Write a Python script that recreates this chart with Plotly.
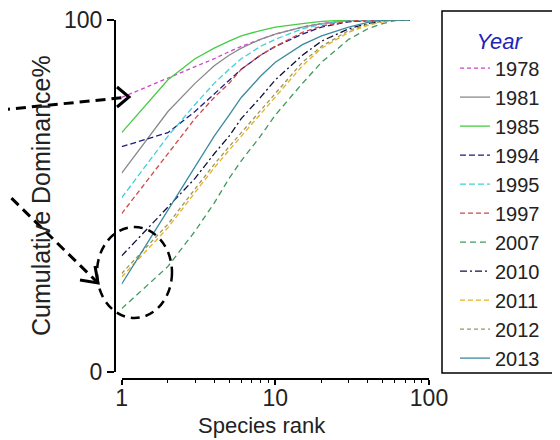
import plotly.graph_objects as go

# page has an 8px body margin: figure occupies x 8..560, y 8..440 of the window
OFF = 8
W, H = 560 - OFF, 440 - OFF

ranks = [1, 2, 3, 4, 5, 6, 8, 10, 15, 20, 30, 40, 50, 60, 75]

years = ["1978", "1981", "1985", "1994", "1995", "1997", "2007", "2010", "2011", "2012", "2013"]

y1978 = [78, 83.5, 86.5, 89, 91, 92.5, 94.5, 96, 98, 99, 99.7, 99.9, 100, 100, 100]
y1981 = [56.5, 74, 82, 87, 90, 92, 94.5, 96, 98, 99, 99.8, 100, 100, 100, 100]
y1985 = [68, 83, 89, 92, 94, 95.5, 97, 98, 99, 99.6, 100, 100, 100, 100, 100]
y1994 = [64, 68, 74, 79, 83, 86, 90, 92.5, 96, 98, 99.5, 99.9, 100, 100, 100]
y1995 = [49.5, 67, 76, 82, 86, 89, 92.5, 94.5, 97.5, 98.8, 99.8, 100, 100, 100, 100]
y1997 = [45, 62, 72, 78, 82, 86, 90, 92.5, 96.5, 98.3, 99.7, 100, 100, 100, 100]
y2007 = [18, 30, 40, 48, 55, 60, 67, 73, 82, 88, 94.5, 97.5, 99, 99.8, 100]
y2010 = [33, 47, 55, 62, 67, 72, 78, 83, 90, 94, 97.5, 99, 99.8, 100, 100]
y2011 = [27, 41, 51, 58, 63, 67, 73, 78, 87, 92, 96.5, 98.5, 99.5, 100, 100]
y2012 = [28, 42, 52, 59, 64, 68, 74, 79, 88, 92.5, 97, 98.8, 99.6, 100, 100]
y2013 = [25, 46, 58, 67, 73, 78, 84, 88, 93, 95.5, 98, 99.3, 100, 100, 100]

series = [y1978, y1981, y1985, y1994, y1995, y1997, y2007, y2010, y2011, y2012, y2013]
colors = ["#cc44cc", "#8a8a8a", "#44cc44", "#1c1c80", "#40d0d8", "#d04848",
          "#3f9a5a", "#101040", "#e8b020", "#98985a", "#3a8aa0"]
dashes = ["4px,3px", "solid", "solid", "6px,3px", "6px,3px", "5px,3px",
          "6px,4px", "7px,3px,2px,3px", "5px,3px", "4px,3px", "solid"]

x_ticks = [1, 10, 100]
x_ticktext = ["1", "10", "100"]
x_minor = [2, 3, 4, 5, 6, 7, 8, 9, 20, 30, 40, 50, 60, 70, 80, 90]
y_ticks = [0, 100]

fig = go.Figure()
for name, ys, c, d in zip(years, series, colors, dashes):
    fig.add_trace(go.Scatter(x=ranks, y=ys, mode="lines", name=name,
                             line=dict(color=c, width=1.3, dash=d)))

def px(x):
    return (x - OFF) / W

def py(y):
    return 1 - (y - OFF) / H

FONT = "Liberation Sans, Arial, sans-serif"

fig.update_layout(
    width=W, height=H, autosize=False,
    margin=dict(l=0, r=0, t=0, b=0, autoexpand=False),
    paper_bgcolor="white", plot_bgcolor="white",
    font=dict(family=FONT, color="#222222"),
    xaxis=dict(type="log", range=[0, 2], domain=[px(121.7), px(429)],
               anchor="free", position=py(379),
               showline=True, linecolor="black", linewidth=2,
               showgrid=False, zeroline=False,
               tickvals=x_ticks, ticktext=x_ticktext,
               ticks="outside", ticklen=5, tickwidth=1.5, tickcolor="black",
               ticklabelstandoff=-7, ticklabeloverflow="allow",
               tickfont=dict(size=23, color="#222222"),
               minor=dict(tickvals=x_minor, ticks="outside", ticklen=3,
                          tickwidth=1.2, tickcolor="black", showgrid=False)),
    yaxis=dict(range=[0, 100], domain=[py(372), py(20)],
               anchor="free", position=px(115),
               showline=True, linecolor="black", linewidth=2,
               showgrid=False, zeroline=False,
               tickvals=y_ticks, ticklabeloverflow="allow",
               ticks="outside", ticklen=7, tickwidth=1.5, tickcolor="black",
               tickfont=dict(size=23, color="#222222")),
    legend=dict(x=px(455), y=py(20), xanchor="left", yanchor="top",
                bgcolor="rgba(0,0,0,0)", borderwidth=0,
                font=dict(size=20, family=FONT, color="#222222"),
                title=dict(text="Year", side="top center",
                           font=dict(size=22, family=FONT, color="#2222bb", style="italic"))),
    showlegend=True,
)

# axis titles
fig.add_annotation(x=px(262), y=py(425), xref="paper", yref="paper",
                   xanchor="center", yanchor="middle",
                   text="Species rank", showarrow=False,
                   font=dict(size=22, family=FONT, color="#222222"))
fig.add_annotation(x=px(41), y=py(196), xref="paper", yref="paper",
                   xanchor="center", yanchor="middle",
                   text="Cumulative Dominance%", showarrow=False, textangle=-90,
                   font=dict(size=25, family=FONT, color="#222222"))

# legend box
fig.add_shape(type="rect", xref="paper", yref="paper",
              x0=px(442), x1=px(558), y0=py(373), y1=py(11),
              line=dict(color="black", width=1.5))

# dashed arrows and ellipse (annotation marks)
dash_style = dict(color="black", width=3, dash="10px,6px")
fig.add_shape(type="line", xref="paper", yref="paper",
              x0=px(0), y0=py(110), x1=px(125), y1=py(97.5), line=dash_style)
fig.add_shape(type="path", xref="paper", yref="paper",
              path=f"M {px(117)},{py(87)} L {px(129)},{py(97)} L {px(117)},{py(107)}",
              line=dict(color="black", width=3))
fig.add_shape(type="line", xref="paper", yref="paper",
              x0=px(0), y0=py(187), x1=px(96), y1=py(281), line=dash_style)
fig.add_shape(type="path", xref="paper", yref="paper",
              path=f"M {px(80)},{py(280)} L {px(98)},{py(283)} L {px(95)},{py(266)}",
              line=dict(color="black", width=3))
fig.add_shape(type="circle", xref="paper", yref="paper",
              x0=px(97), x1=px(172), y0=py(318), y1=py(227),
              line=dict(color="black", width=2.5, dash="9px,6px"))

fig.write_html("out.html")
